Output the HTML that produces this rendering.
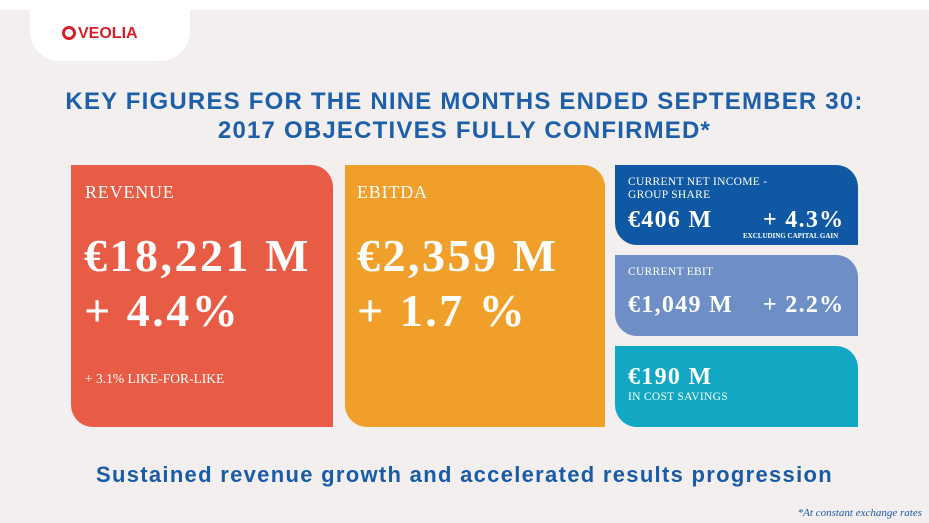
<!DOCTYPE html>
<html><head><meta charset="utf-8"><style>
body{margin:0;width:929px;height:523px;background:#f2efee;position:relative;overflow:hidden;font-family:"Liberation Serif",serif;color:#fff}
.top{position:absolute;left:0;top:0;width:929px;height:10px;background:#fff}
.tab{position:absolute;left:30px;top:0;width:160px;height:61px;background:#fff;border-radius:0 0 30px 30px}
.logo{position:absolute;left:62px;top:25px;font:bold 16px "Liberation Sans",sans-serif;color:#d3202a}
.logo .c{display:inline-block;width:14px;height:14px;border:3px solid #d3202a;border-radius:50%;box-sizing:border-box;vertical-align:-2px;margin-right:2px}
.t{position:absolute;left:0;width:929px;text-align:center;font:bold 24px "Liberation Sans",sans-serif;color:#1d5fa8;letter-spacing:1.2px}
.b{position:absolute;border-radius:0 22px 0 22px}
.s{position:absolute;font-size:16px;white-space:nowrap}
.big{position:absolute;font-weight:bold;font-size:46px;letter-spacing:2.5px;white-space:nowrap}
.med{position:absolute;font-weight:bold;font-size:24px;letter-spacing:1.3px;white-space:nowrap}
.sm{position:absolute;font-size:11.5px;letter-spacing:0.3px;white-space:nowrap}
</style></head><body>
<div class="top"></div><div class="tab"></div>
<div class="logo"><span class="c"></span>VEOLIA</div>
<div class="t" style="top:88px">KEY FIGURES FOR THE NINE MONTHS ENDED SEPTEMBER 30:</div>
<div class="t" style="top:117px">2017 OBJECTIVES FULLY CONFIRMED*</div>

<div class="b" style="left:71px;top:165px;width:262px;height:262px;background:#e85c45">
<div class="s" style="left:14px;top:17px;font-size:18px;letter-spacing:0.8px">REVENUE</div>
<div class="big" style="left:13px;top:64px">€18,221 M</div>
<div class="big" style="left:13px;top:119px">+ 4.4%</div>
<div class="s" style="left:14px;top:206px;font-size:13.5px">+ 3.1% LIKE-FOR-LIKE</div>
</div>
<div class="b" style="left:345px;top:165px;width:260px;height:262px;background:#f0a02a">
<div class="s" style="left:12px;top:17px;font-size:18px;letter-spacing:0.8px">EBITDA</div>
<div class="big" style="left:12px;top:64px">€2,359 M</div>
<div class="big" style="left:12px;top:119px">+ 1.7 %</div>
</div>
<div class="b" style="left:615px;top:165px;width:243px;height:80px;background:#0f58a3">
<div class="sm" style="left:13px;top:11px;line-height:13px">CURRENT NET INCOME -<br>GROUP SHARE</div>
<div class="med" style="left:13px;top:42px">€406 M</div>
<div class="med" style="left:148px;top:42px">+ 4.3%</div>
<div class="sm" style="left:128px;top:67px;font-size:7px;font-weight:bold;letter-spacing:0">EXCLUDING CAPITAL GAIN</div>
</div>
<div class="b" style="left:615px;top:255px;width:243px;height:81px;background:#6d8fc6">
<div class="sm" style="left:13px;top:11px">CURRENT EBIT</div>
<div class="med" style="left:13px;top:37px">€1,049 M</div>
<div class="med" style="left:148px;top:37px">+ 2.2%</div>
</div>
<div class="b" style="left:615px;top:346px;width:243px;height:81px;background:#12a8c3">
<div class="med" style="left:13px;top:18px">€190 M</div>
<div class="sm" style="left:13px;top:45px">IN COST SAVINGS</div>
</div>
<div class="t" style="top:462px;font-size:22px;color:#1a5ba6;letter-spacing:1.3px">Sustained revenue growth and accelerated results progression</div>
<div style="position:absolute;right:7px;top:507px;font:italic 11px 'Liberation Serif',serif;color:#1a5ba6">*At constant exchange rates</div>
</body></html>
